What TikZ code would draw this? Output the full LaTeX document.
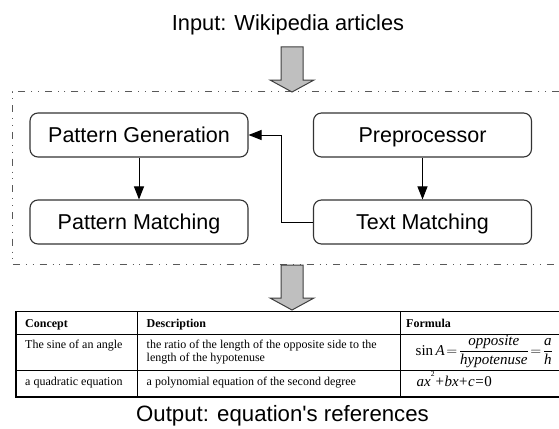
\documentclass[tikz,border=0pt]{standalone}
\usepackage{fontspec}
\setmainfont{Liberation Serif}
\newfontfamily\arialfont{Liberation Sans}
\usetikzlibrary{arrows.meta}

\tikzset{
  stage/.style={draw=black!80, line width=1.1pt, rounded corners=8pt,
    minimum width=218pt, minimum height=44pt, inner sep=0pt,
    text height=15.4pt, text depth=0pt,
    font=\arialfont\fontsize{21.5}{24}\selectfont},
  flow/.style={line width=1pt, -{Triangle[length=13pt,width=10pt]}},
  caption/.style={font=\arialfont\fontsize{21.8}{24}\selectfont, inner sep=0pt, anchor=base},
  blockarrow/.style={draw=black!75, line width=1pt, fill=black!25, line join=miter},
  frame/.style={draw=black!65, line width=0.9pt,
    dash pattern=on 7pt off 6pt on 1pt off 5.7pt on 1pt off 6pt},
  cell/.style={font=\fontsize{12}{13.5}\selectfont, inner sep=0pt, anchor=base west},
  head/.style={cell, font=\bfseries\fontsize{12}{13.5}\selectfont},
  formula/.style={inner sep=0pt, anchor=base west, font=\fontsize{15}{17}\selectfont},
  rule/.style={line width=1pt, draw=black}
}

\begin{document}
\begin{tikzpicture}[x=1pt, y=-1pt]
  \fill[white] (0,0) rectangle (559,428);
  \useasboundingbox (0,0) rectangle (559,428);

  % input caption
  \node[caption] (input) at (288,31) {Input: Wikipedia articles};

  % frame around the processing stages
  \draw[frame] (559,91.5) -- (12,91.5) -- (12,264.5) -- (559,264.5);

  % block arrow into the frame
  \draw[blockarrow] (281,47) -- (303,47) -- (303,80) -- (314,80) -- (292,92)
    -- (270,80) -- (281,80) -- cycle;

  % processing stages
  \node[stage] (gen)  at (139,135)   {Pattern Generation};
  \node[stage] (pmat) at (139,222)   {Pattern Matching};
  \node[stage] (pre)  at (422.5,135) {Preprocessor};
  \node[stage] (tmat) at (422.5,222) {Text Matching};

  \coordinate (kink) at (281,0);
  \draw[flow] (gen) -- (pmat);
  \draw[flow] (pre) -- (tmat);
  \draw[flow] (tmat.west) -- (tmat.west -| kink) |- (gen.east);

  % block arrow out of the frame
  \draw[blockarrow] (281,265) -- (303,265) -- (303,298) -- (314,298) -- (292,310)
    -- (270,298) -- (281,298) -- cycle;

  % result table
  \draw[rule, line width=1.2pt] (563,311.7) -- (16,311.7) -- (16,397) -- (563,397);
  \draw[rule] (16,334) -- (563,334);
  \draw[rule] (16,370.7) -- (563,370.7);
  \draw[rule] (137,311.7) -- (137,397);
  \draw[rule] (400,311.7) -- (400,397);

  \node[head] (hc) at (25,327)    {Concept};
  \node[head] (hd) at (146.5,327) {Description};
  \node[head] (hf) at (406,327)   {Formula};

  \node[cell] (c1) at (25,348) {The sine of an angle};
  \node[cell, anchor=north west, align=left] (d1) at (146.5,339.5)
    {the ratio of the length of the opposite side to the\\length of the hypotenuse};
  \node[formula] (f1) at (415.5,355)
    {$\displaystyle\textrm{sin}\,\textit{A}\!=\!\frac{\textit{opposite}}{\textit{hypotenuse}}\!=\!\frac{\textit{a}}{\textit{h}}$};

  \node[cell] (c2) at (25,385) {a quadratic equation};
  \node[cell] (d2) at (146.5,385) {a polynomial equation of the second degree};
  \node[formula] (f2) at (416.5,386)
    {\textit{ax}\raisebox{9.3pt}{\fontsize{7.5}{8}\selectfont 2}\kern1pt+\kern0.5pt\textit{bx}\kern0.5pt+\kern0.5pt\textit{c}\kern0.5pt=\kern0.5pt0};

  % output caption
  \node[caption, font=\arialfont\fontsize{22.2}{24}\selectfont] (output) at (282.5,421)
    {Output: equation's references};
\end{tikzpicture}
\end{document}
